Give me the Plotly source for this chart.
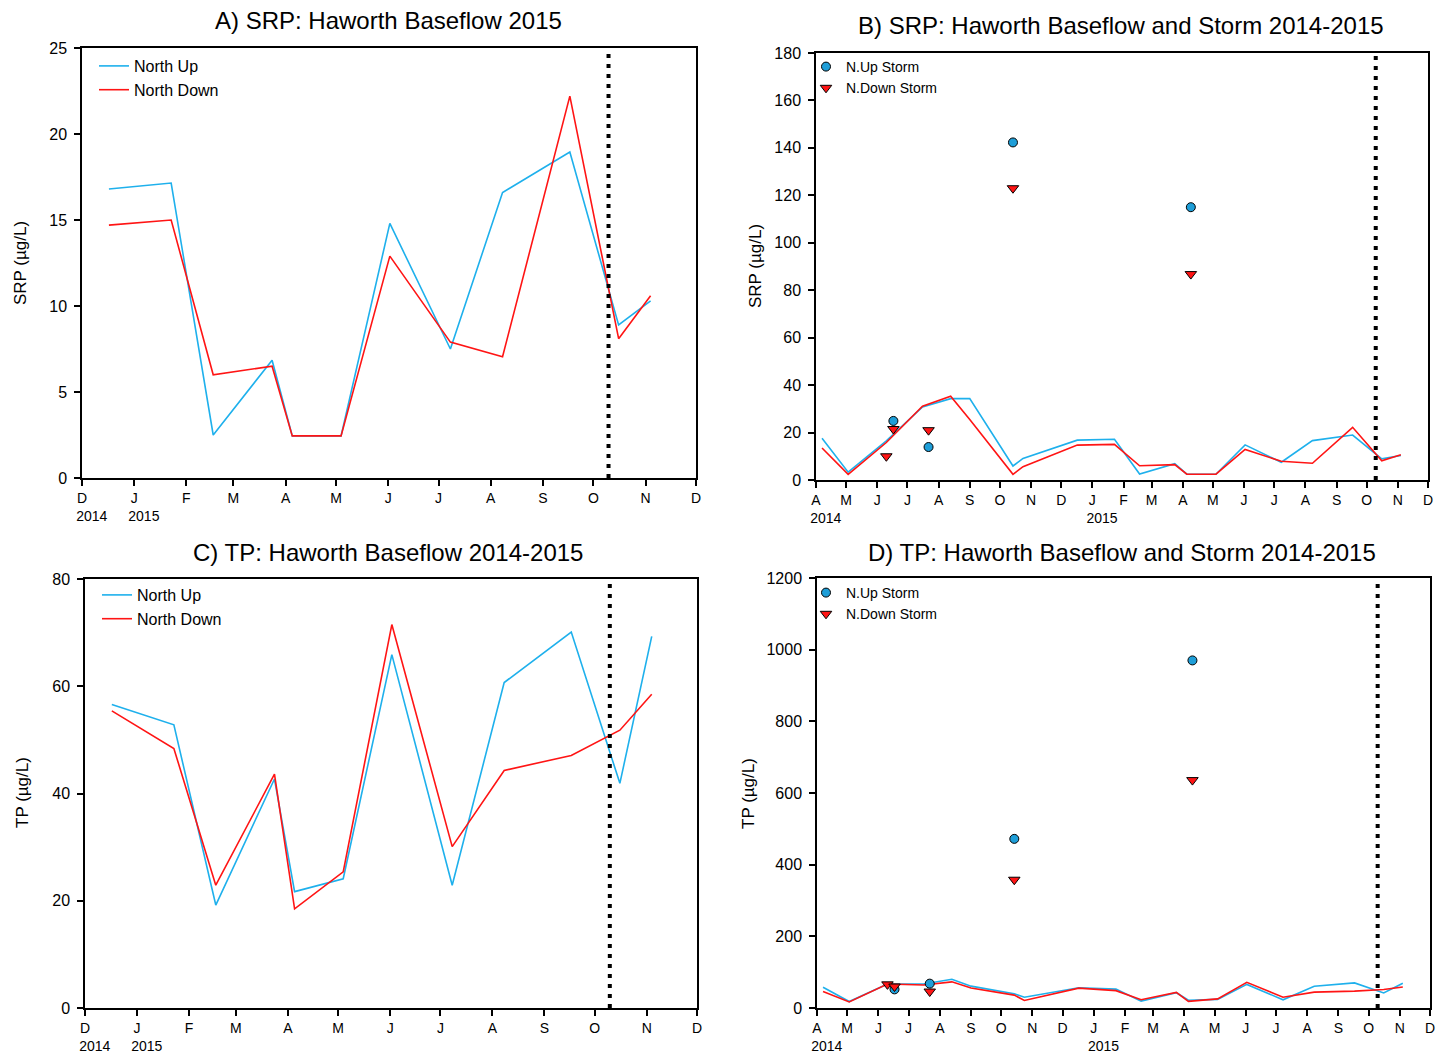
import plotly.graph_objects as go

# ---------------- data ----------------
# Baseflow sampling dates, 2014 (only in B/D) and 2014-12 .. 2015-11 (all panels)
dates_14 = ["2014-04-07", "2014-05-03", "2014-06-10", "2014-07-16", "2014-08-13",
            "2014-09-01", "2014-10-14", "2014-10-24"]
dates_15 = ["2014-12-17", "2015-01-23", "2015-02-17", "2015-03-24", "2015-04-05",
            "2015-05-04", "2015-06-02", "2015-07-08", "2015-08-08", "2015-09-17",
            "2015-10-16", "2015-11-04"]

srp_up_14 = [17.6, 3.3, 16.5, 30.8, 34.3, 34.3, 5.9, 9.1]
srp_dn_14 = [13.5, 2.4, 15.8, 31.1, 35.3, 25.5, 2.4, 5.6]
srp_up_15 = [16.8, 17.15, 2.5, 6.85, 2.45, 2.45, 14.8, 7.5, 16.6, 18.95, 8.9, 10.3]
srp_dn_15 = [14.7, 15.0, 6.0, 6.5, 2.45, 2.45, 12.9, 7.9, 7.05, 22.2, 8.1, 10.6]

tp_up_14 = [58, 18, 67, 67, 80, 61, 40, 30]
tp_dn_14 = [46, 17, 67, 64, 73, 56, 36, 21]
tp_up_15 = [56.6, 52.8, 19.2, 42.7, 21.7, 24.1, 65.9, 22.9, 60.7, 70.1, 41.9, 69.3]
tp_dn_15 = [55.4, 48.4, 22.9, 43.6, 18.5, 25.4, 71.5, 30.1, 44.3, 47.1, 51.8, 58.5]

# Storm samples
storm_up_dates = ["2014-06-17", "2014-07-22", "2014-10-14", "2015-04-09"]
storm_up_srp = [24.9, 13.9, 142.3, 115.0]
storm_up_tp = [52, 68, 472, 970]
storm_dn_dates = ["2014-06-10", "2014-06-17", "2014-07-22", "2014-10-14", "2015-04-09"]
storm_dn_srp = [10.0, 21.5, 21.0, 123.0, 86.8]
storm_dn_tp = [66, 60, 46, 358, 636]

event_date = "2015-10-10"

SP = "\u00a0" * 5
ticks_A = ["2014-12-01", "2015-01-01", "2015-02-01", "2015-03-01", "2015-04-01", "2015-05-01",
           "2015-06-01", "2015-07-01", "2015-08-01", "2015-09-01", "2015-10-01", "2015-11-01",
           "2015-12-01"]
ticktext_A = ["D<br>" + SP + "2014", "J<br>" + SP + "2015", "F", "M", "A", "M", "J", "J",
              "A", "S", "O", "N", "D"]
ticks_B = ["2014-04-01", "2014-05-01", "2014-06-01", "2014-07-01", "2014-08-01", "2014-09-01",
           "2014-10-01", "2014-11-01", "2014-12-01"] + ticks_A[1:]
ticktext_B = ["A<br>" + SP + "2014", "M", "J", "J", "A", "S", "O", "N", "D",
              "J<br>" + SP + "2015", "F", "M", "A", "M", "J", "J", "A", "S", "O", "N", "D"]

# ---------------- styling ----------------
W, H = 1448, 1063
CYAN = "#1EB0EC"
RED = "#FF1414"
MCYAN = "#1E9ED8"
FONT = "Liberation Sans, Arial, sans-serif"


def fx(px):
    return px / W


def fy(py):
    return 1 - py / H


fig = go.Figure()

up_B = dates_14 + dates_15
# Panel A
fig.add_trace(go.Scatter(x=dates_15, y=srp_up_15, mode="lines", name="North Up",
                         line=dict(color=CYAN, width=1.6), xaxis="x", yaxis="y", legend="legend"))
fig.add_trace(go.Scatter(x=dates_15, y=srp_dn_15, mode="lines", name="North Down",
                         line=dict(color=RED, width=1.6), xaxis="x", yaxis="y", legend="legend"))
# Panel B
fig.add_trace(go.Scatter(x=up_B, y=srp_up_14 + srp_up_15, mode="lines", showlegend=False,
                         line=dict(color=CYAN, width=1.6), xaxis="x2", yaxis="y2"))
fig.add_trace(go.Scatter(x=up_B, y=srp_dn_14 + srp_dn_15, mode="lines", showlegend=False,
                         line=dict(color=RED, width=1.6), xaxis="x2", yaxis="y2"))
fig.add_trace(go.Scatter(x=storm_up_dates, y=storm_up_srp, mode="markers", name="N.Up Storm",
                         marker=dict(symbol="circle", size=9, color=MCYAN,
                                     line=dict(color="black", width=1)),
                         xaxis="x2", yaxis="y2", legend="legend2"))
fig.add_trace(go.Scatter(x=storm_dn_dates, y=storm_dn_srp, mode="markers", name="N.Down Storm",
                         marker=dict(symbol="triangle-down", size=10, color=RED,
                                     line=dict(color="black", width=1)),
                         xaxis="x2", yaxis="y2", legend="legend2"))
# Panel C
fig.add_trace(go.Scatter(x=dates_15, y=tp_up_15, mode="lines", name="North Up",
                         line=dict(color=CYAN, width=1.6), xaxis="x3", yaxis="y3", legend="legend3"))
fig.add_trace(go.Scatter(x=dates_15, y=tp_dn_15, mode="lines", name="North Down",
                         line=dict(color=RED, width=1.6), xaxis="x3", yaxis="y3", legend="legend3"))
# Panel D
fig.add_trace(go.Scatter(x=up_B, y=tp_up_14 + tp_up_15, mode="lines", showlegend=False,
                         line=dict(color=CYAN, width=1.6), xaxis="x4", yaxis="y4"))
fig.add_trace(go.Scatter(x=up_B, y=tp_dn_14 + tp_dn_15, mode="lines", showlegend=False,
                         line=dict(color=RED, width=1.6), xaxis="x4", yaxis="y4"))
fig.add_trace(go.Scatter(x=storm_up_dates, y=storm_up_tp, mode="markers", name="N.Up Storm",
                         marker=dict(symbol="circle", size=9, color=MCYAN,
                                     line=dict(color="black", width=1)),
                         xaxis="x4", yaxis="y4", legend="legend4"))
fig.add_trace(go.Scatter(x=storm_dn_dates, y=storm_dn_tp, mode="markers", name="N.Down Storm",
                         marker=dict(symbol="triangle-down", size=10, color=RED,
                                     line=dict(color="black", width=1)),
                         xaxis="x4", yaxis="y4", legend="legend4"))

common = dict(showline=True, linecolor="black", linewidth=1.5, mirror=True,
              ticks="outside", ticklen=6, tickwidth=1.5, tickcolor="black",
              showgrid=False, zeroline=False, automargin=False, tickangle=0)
xfont = dict(family=FONT, size=14, color="black")
yfont = dict(family=FONT, size=16, color="black")

layout = dict(
    width=W, height=H, margin=dict(l=0, r=0, t=0, b=0, autoexpand=False),
    paper_bgcolor="white", plot_bgcolor="white",
    font=dict(family=FONT, color="black"),
    xaxis=dict(domain=[fx(82), fx(696)], anchor="y", type="date",
               range=["2014-12-01", "2015-12-01"], tickvals=ticks_A, ticktext=ticktext_A,
               tickfont=xfont, **common),
    yaxis=dict(domain=[fy(478), fy(48)], anchor="x", range=[0, 25], dtick=5,
               tickfont=yfont, ticklabelstandoff=4, **common),
    xaxis2=dict(domain=[fx(816), fx(1428)], anchor="y2", type="date",
                range=["2014-04-01", "2015-12-01"], tickvals=ticks_B, ticktext=ticktext_B,
                tickfont=xfont, **common),
    yaxis2=dict(domain=[fy(480), fy(53)], anchor="x2", range=[0, 180], dtick=20,
                tickfont=yfont, ticklabelstandoff=4, **common),
    xaxis3=dict(domain=[fx(85), fx(697)], anchor="y3", type="date",
                range=["2014-12-01", "2015-12-01"], tickvals=ticks_A, ticktext=ticktext_A,
                tickfont=xfont, **common),
    yaxis3=dict(domain=[fy(1008), fy(579)], anchor="x3", range=[0, 80], dtick=20,
                tickfont=yfont, ticklabelstandoff=4, **common),
    xaxis4=dict(domain=[fx(817), fx(1430)], anchor="y4", type="date",
                range=["2014-04-01", "2015-12-01"], tickvals=ticks_B, ticktext=ticktext_B,
                tickfont=xfont, **common),
    yaxis4=dict(domain=[fy(1008), fy(578)], anchor="x4", range=[0, 1200], dtick=200,
                tickfont=yfont, ticklabelstandoff=4, **common),
    legend=dict(x=fx(94), y=fy(49), xanchor="left", yanchor="top",
                bgcolor="rgba(0,0,0,0)", font=dict(family=FONT, size=16)),
    legend2=dict(x=fx(806), y=fy(51), xanchor="left", yanchor="top",
                 bgcolor="rgba(0,0,0,0)", font=dict(family=FONT, size=14)),
    legend3=dict(x=fx(97), y=fy(578), xanchor="left", yanchor="top",
                 bgcolor="rgba(0,0,0,0)", font=dict(family=FONT, size=16)),
    legend4=dict(x=fx(806), y=fy(577), xanchor="left", yanchor="top",
                 bgcolor="rgba(0,0,0,0)", font=dict(family=FONT, size=14)),
    showlegend=True,
)
fig.update_layout(**layout)

# dotted event line in each panel
for xa, ya in [("x", "y"), ("x2", "y2"), ("x3", "y3"), ("x4", "y4")]:
    fig.add_shape(type="line", xref=xa, yref=f"{ya} domain", x0=event_date, x1=event_date,
                  y0=0, y1=1, line=dict(color="black", width=4, dash="4px,6px"))

titles = [
    ("A) SRP: Haworth Baseflow 2015", 388, 21),
    ("B) SRP: Haworth Baseflow and Storm 2014-2015", 1121, 25),
    ("C) TP: Haworth Baseflow 2014-2015", 388, 552),
    ("D) TP: Haworth Baseflow and Storm 2014-2015", 1122, 552),
]
for txt, px, py in titles:
    fig.add_annotation(text=txt, x=fx(px), y=fy(py), xref="paper", yref="paper",
                       showarrow=False, xanchor="center", yanchor="middle",
                       font=dict(family=FONT, size=24, color="black"))

ytitles = [
    ("SRP (µg/L)", 20, 263),
    ("SRP (µg/L)", 755, 266),
    ("TP (µg/L)", 22, 793),
    ("TP (µg/L)", 748, 793),
]
for txt, px, py in ytitles:
    fig.add_annotation(text=txt, x=fx(px), y=fy(py), xref="paper", yref="paper",
                       showarrow=False, xanchor="center", yanchor="middle", textangle=-90,
                       font=dict(family=FONT, size=17, color="black"))

fig.write_html("out.html")
